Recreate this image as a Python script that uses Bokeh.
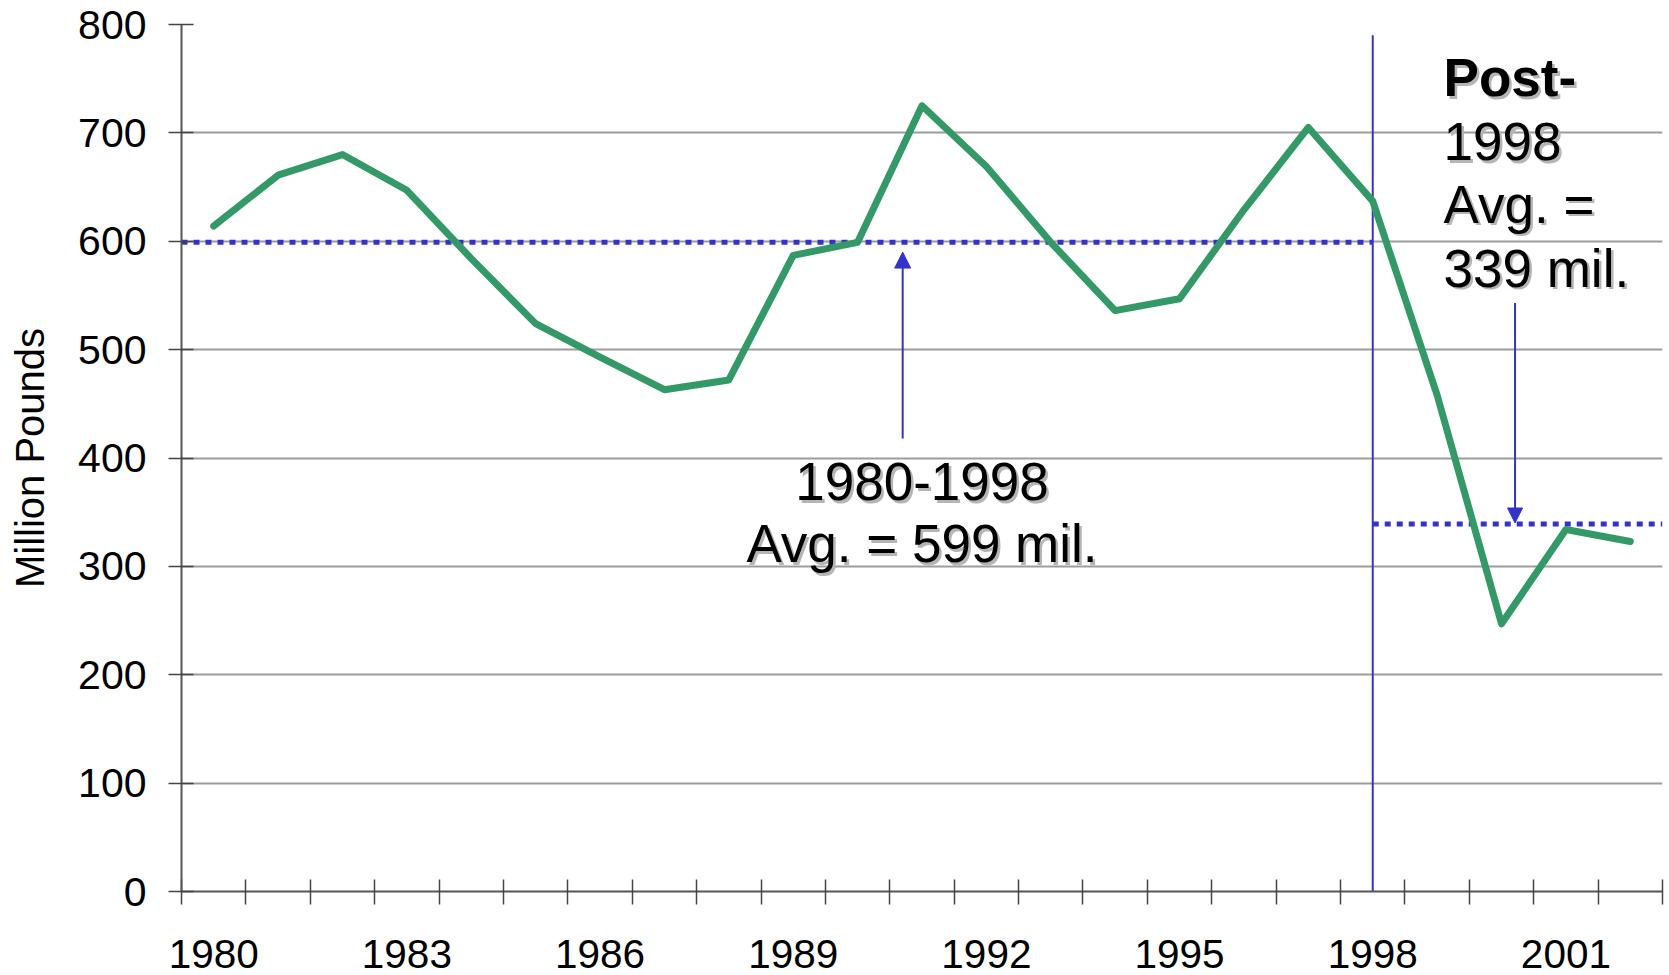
from bokeh.plotting import figure
from bokeh.models import FixedTicker, Range1d, Arrow, NormalHead, PolyAnnotation, ColumnDataSource
from bokeh.core.properties import value
from bokeh.embed import file_html
from bokeh.resources import INLINE

# ---- data ----
years = list(range(1980, 2003))
pounds = [614, 661, 680, 647, 584, 524, 493, 463, 472, 587, 599, 725,
          669, 599, 536, 547, 629, 705, 637, 458, 247, 334, 323]
year_labels = ["1980", "1983", "1986", "1989", "1992", "1995", "1998", "2001"]
y_ticks = [0, 100, 200, 300, 400, 500, 600, 700, 800]
pre_avg = 599
post_avg = 339
split_year = 1998
y_title = "Million Pounds"
pre_text = ["1980-1998", "Avg. = 599 mil."]
post_title = "Post-"
post_text = ["1998", "Avg. =", "339 mil."]

BLUE = "#3333cc"
GREEN = "#339966"
FONT = "Liberation Sans"

x0, x1 = years[0] - 0.5, years[-1] + 0.5

p = figure(width=1669, height=975, output_backend="svg", toolbar_location=None,
           x_range=Range1d(x0, x1), y_range=Range1d(y_ticks[0], y_ticks[-1]),
           min_border_left=181, min_border_right=7, min_border_top=24, min_border_bottom=84)
p.outline_line_color = None
p.background_fill_color = "white"
p.border_fill_color = "white"

# grid
p.xgrid.grid_line_color = None
p.ygrid.ticker = FixedTicker(ticks=y_ticks)
p.ygrid.grid_line_color = "#9c9c9c"
p.ygrid.grid_line_width = 2

# y axis
p.yaxis.ticker = FixedTicker(ticks=y_ticks)
p.yaxis.axis_line_color = "#555555"
p.yaxis.axis_line_width = 2
p.yaxis.major_tick_line_color = "#444444"
p.yaxis.major_tick_line_width = 1.5
p.yaxis.major_tick_in = 12
p.yaxis.major_tick_out = 13
p.yaxis.minor_tick_line_color = None
p.yaxis.major_label_standoff = 22
p.yaxis.major_label_text_font = FONT
p.yaxis.major_label_text_font_size = "41px"
p.yaxis.major_label_text_color = "black"
p.yaxis.axis_label = y_title
p.yaxis.axis_label_text_font = FONT
p.yaxis.axis_label_text_font_size = "40px"
p.yaxis.axis_label_text_font_style = "normal"
p.yaxis.axis_label_text_color = "black"
p.yaxis.axis_label_standoff = 23

# x axis
p.xaxis.ticker = FixedTicker(ticks=[int(s) for s in year_labels],
                             minor_ticks=[y - 0.5 for y in years] + [x1])
p.xaxis.axis_line_color = "#555555"
p.xaxis.axis_line_width = 2
p.xaxis.major_tick_line_color = None
p.xaxis.major_tick_in = 0
p.xaxis.major_tick_out = 0
p.xaxis.minor_tick_line_color = "#444444"
p.xaxis.minor_tick_line_width = 1.5
p.xaxis.minor_tick_in = 12
p.xaxis.minor_tick_out = 13
p.xaxis.major_label_standoff = 35
p.xaxis.major_label_text_font = FONT
p.xaxis.major_label_text_font_size = "40.5px"
p.xaxis.major_label_text_color = "black"

# decorative swoosh bottom-left
p.add_layout(PolyAnnotation(
    xs=[x0 - 2.5, x0 - 2.03, x0 - 1.52, x0 - 1.15, x0 - 0.90, x0 - 0.82, x0 - 0.885, x0 - 0.98],
    ys=[-77, -73.8, -69.2, -61.2, -47.4, -42.8, -58.5, -77],
    fill_color="#d9d9d9", fill_alpha=1.0, line_color=None, level="overlay"))

# vertical split line
p.segment(x0=[split_year], y0=[0], x1=[split_year], y1=[790], line_color=BLUE, line_width=2)

# average lines
p.line([x0, split_year], [pre_avg, pre_avg], line_color=BLUE, line_width=5, line_dash="6 6")
p.line([split_year, x1], [post_avg, post_avg], line_color=BLUE, line_width=5, line_dash="6 6")

# data line
src = ColumnDataSource(dict(year=years, pounds=pounds))
p.line("year", "pounds", source=src, line_color=GREEN, line_width=7,
       line_join="round", line_cap="round")

# arrows
p.add_layout(Arrow(end=NormalHead(size=16, fill_color=BLUE, line_color=BLUE, line_width=1),
                   x_start=1990.7, y_start=418, x_end=1990.7, y_end=pre_avg - 9,
                   line_color=BLUE, line_width=2))
p.add_layout(Arrow(end=NormalHead(size=15, fill_color=BLUE, line_color=BLUE, line_width=1),
                   x_start=2000.21, y_start=543, x_end=2000.21, y_end=post_avg + 1,
                   line_color=BLUE, line_width=2))

def shadow_text(xs, ys, texts, size, align, style="normal"):
    for col, off in (("#b5b5b5", 2.5), ("black", 0)):
        p.text(x=xs, y=ys, text=texts, x_offset=off, y_offset=off,
               text_font=value(FONT), text_font_size=size, text_font_style=style,
               text_color=col, text_align=align, text_baseline="middle")

shadow_text([1991.0, 1991.0], [378, 321], pre_text, "53px", "center")
shadow_text([1999.1], [751], [post_title], "53px", "left", "bold")
shadow_text([1999.1] * 3, [692, 634, 575], post_text, "53px", "left")

open("out.html", "w").write(file_html(p, INLINE))
